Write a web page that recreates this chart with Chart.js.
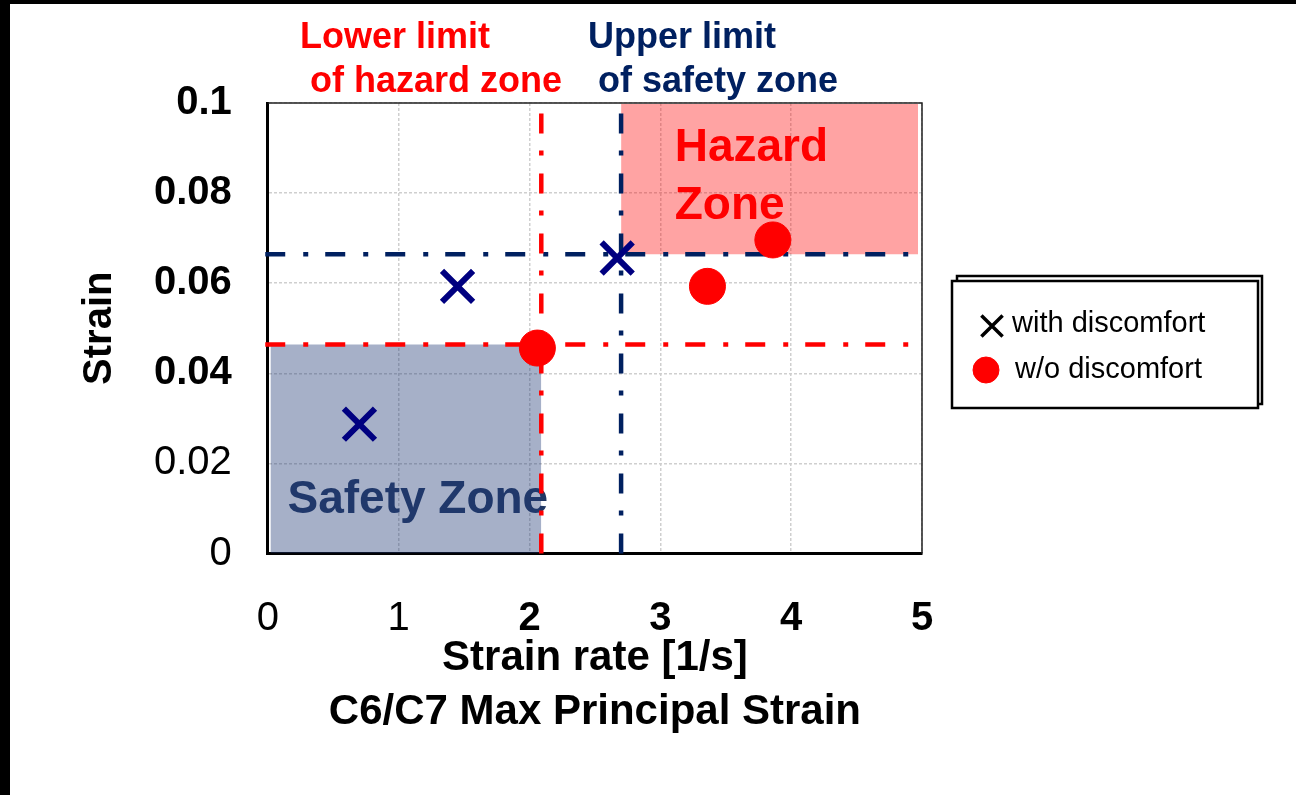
<!DOCTYPE html>
<html>
<head>
<meta charset="utf-8">
<script src="https://cdn.jsdelivr.net/npm/chart.js@4.4.0/dist/chart.umd.min.js"></script>
<style>
  html, body { margin: 0; padding: 0; background: #fff; }
  #wrap { width: 1296px; height: 795px; }
</style>
</head>
<body>
<div id="wrap"><canvas id="chart" width="1296" height="795"></canvas></div>
<script>
const xTickValues = [0, 1, 2, 3, 4, 5];
const xTickLabels = ["0", "1", "2", "3", "4", "5"];
const yTickValues = [0, 0.02, 0.04, 0.06, 0.08, 0.1];
const yTickLabels = ["0", "0.02", "0.04", "0.06", "0.08", "0.1"];

// strain rate [1/s] vs strain, per subject
const withDiscomfortX = [0.70, 1.45, 2.67];
const withDiscomfortY = [0.0287, 0.0593, 0.0656];
const withoutDiscomfortX = [2.06, 3.36, 3.86];
const withoutDiscomfortY = [0.0456, 0.0593, 0.0696];

// limits: [strain rate, strain]
const hazardLowerLimit = [2.09, 0.0464];
const safetyUpperLimit = [2.70, 0.0664];

// zone rectangles: [xMin, xMax], [yMin, yMax]
const safetyZoneX = [0.02, 2.09];
const safetyZoneY = [0, 0.0464];
const hazardZoneX = [2.70, 4.97];
const hazardZoneY = [0.0664, 0.0998];

const lineXRange = [-0.02, 5.02];
const lineYRange = [0, 0.1];

const RED = "#ff0000";
const NAVY = "#002060";
const FONT = "'Liberation Sans', Arial, sans-serif";

const pts = (xs, ys) => xs.map((x, i) => ({ x: x, y: ys[i] }));
const dashDot = [20, 18, 5, 17];

function limitLine(color, data) {
  return {
    type: "line", data: data, borderColor: color, borderWidth: 4.5,
    borderDash: dashDot, pointRadius: 0, fill: false, clip: 10, order: 1
  };
}

const datasets = [
  {
    label: "with discomfort",
    data: pts(withDiscomfortX, withDiscomfortY),
    pointStyle: "crossRot", pointRadius: 22, borderWidth: 6,
    borderColor: "#000080", backgroundColor: "#000080", order: 0
  },
  {
    label: "w/o discomfort",
    data: pts(withoutDiscomfortX, withoutDiscomfortY),
    pointStyle: "circle", pointRadius: 18, borderWidth: 1,
    borderColor: RED, backgroundColor: RED, order: 0
  },
  limitLine(RED, [{ x: lineXRange[0], y: hazardLowerLimit[1] }, { x: lineXRange[1], y: hazardLowerLimit[1] }]),
  limitLine(RED, [{ x: hazardLowerLimit[0], y: lineYRange[0] }, { x: hazardLowerLimit[0], y: lineYRange[1] }]),
  limitLine(NAVY, [{ x: lineXRange[0], y: safetyUpperLimit[1] }, { x: lineXRange[1], y: safetyUpperLimit[1] }]),
  limitLine(NAVY, [{ x: safetyUpperLimit[0], y: lineYRange[0] }, { x: safetyUpperLimit[0], y: lineYRange[1] }]),
  {
    type: "line", label: "safety zone",
    data: [{ x: safetyZoneX[0], y: safetyZoneY[1] }, { x: safetyZoneX[1], y: safetyZoneY[1] }],
    fill: { value: safetyZoneY[0] }, backgroundColor: "rgba(32,58,118,0.4)",
    borderWidth: 0, pointRadius: 0, order: 2
  },
  {
    type: "line", label: "hazard zone",
    data: [{ x: hazardZoneX[0], y: hazardZoneY[1] }, { x: hazardZoneX[1], y: hazardZoneY[1] }],
    fill: { value: hazardZoneY[0] }, backgroundColor: "rgba(255,0,0,0.36)",
    borderWidth: 0, pointRadius: 0, order: 2
  }
];

const frame = {
  id: "frame",
  beforeDraw(chart) {
    const ctx = chart.ctx;
    ctx.save();
    ctx.fillStyle = "#fff";
    ctx.fillRect(0, 0, chart.width, chart.height);
    ctx.fillStyle = "#000";
    ctx.fillRect(0, 0, chart.width, 4);
    ctx.fillRect(0, 0, 10, chart.height);
    ctx.restore();
  },
  beforeDatasetsDraw(chart) {
    const { ctx, scales: { x, y } } = chart;
    ctx.save();
    ctx.font = "bold 46px " + FONT;
    ctx.textBaseline = "middle";
    ctx.fillStyle = RED;
    ctx.fillText("Hazard", x.getPixelForValue(3.11), y.getPixelForValue(0.0899));
    ctx.fillText("Zone", x.getPixelForValue(3.11), y.getPixelForValue(0.0770));
    ctx.fillStyle = "#203864";
    ctx.fillText("Safety Zone", x.getPixelForValue(0.15), y.getPixelForValue(0.0118));
    ctx.restore();
  },
  afterDraw(chart) {
    const { ctx, chartArea: a } = chart;
    ctx.save();
    // plot frame top/right
    ctx.strokeStyle = "#222";
    ctx.lineWidth = 1.5;
    ctx.beginPath();
    ctx.moveTo(a.left, a.top); ctx.lineTo(a.right, a.top); ctx.lineTo(a.right, a.bottom);
    ctx.stroke();

    // limit captions
    ctx.font = "bold 36px " + FONT;
    ctx.textBaseline = "middle";
    ctx.fillStyle = RED;
    ctx.fillText("Lower limit", 300, 38);
    ctx.fillText("of hazard zone", 310, 82);
    ctx.fillStyle = NAVY;
    ctx.fillText("Upper limit", 588, 38);
    ctx.fillText("of safety zone", 598, 82);

    // legend box
    ctx.lineWidth = 2.5;
    ctx.strokeStyle = "#000";
    ctx.fillStyle = "#fff";
    ctx.fillRect(957, 276, 305, 128);
    ctx.strokeRect(957, 276, 305, 128);
    ctx.fillRect(952, 281, 306, 127);
    ctx.strokeRect(952, 281, 306, 127);

    const dp = Chart.helpers && Chart.helpers.drawPoint;
    const ds = chart.data.datasets;
    ctx.font = "29px " + FONT;
    ctx.fillStyle = "#000";
    ctx.fillText(ds[0].label, 1012, 324);
    ctx.fillText(ds[1].label, 1015, 370);
    if (dp) {
      ctx.strokeStyle = "#000";
      ctx.lineWidth = 3.5;
      dp(ctx, { pointStyle: ds[0].pointStyle, radius: 15, rotation: 0, borderWidth: 3.5 }, 992, 326);
      ctx.fillStyle = ds[1].backgroundColor;
      ctx.strokeStyle = ds[1].borderColor;
      ctx.lineWidth = 1;
      dp(ctx, { pointStyle: ds[1].pointStyle, radius: 13, rotation: 0, borderWidth: 1 }, 986, 370);
    }
    ctx.restore();
  }
};

const gridOpts = {
  color: (c) => (c.tick && c.tick.value === 0 ? "rgba(0,0,0,0)" : "#cfcfcf"),
  lineWidth: 1.5,
  drawTicks: false
};

new Chart(document.getElementById("chart"), {
  type: "scatter",
  data: { datasets: datasets },
  options: {
    responsive: false,
    animation: false,
    layout: { padding: { top: 103, left: 60, right: 374, bottom: 56 } },
    plugins: { legend: { display: false }, tooltip: { enabled: false } },
    scales: {
      x: {
        type: "linear", min: 0, max: 5,
        afterBuildTicks: (s) => { s.ticks = xTickValues.map((v) => ({ value: v })); },
        grid: gridOpts,
        border: { color: "#000", width: 3, dash: [3, 2] },
        ticks: {
          padding: 45, color: "#000",
          font: (c) => ({ family: FONT, size: 40, lineHeight: 1, weight: c.index >= 2 ? "bold" : "normal" }),
          callback: (v, i) => xTickLabels[i]
        },
        title: {
          display: true, color: "#000",
          text: ["Strain rate [1/s]", "C6/C7 Max Principal Strain"],
          font: { family: FONT, size: 42, weight: "bold", lineHeight: 1.28 },
          padding: { top: -52, bottom: 0 }
        }
      },
      y: {
        type: "linear", min: 0, max: 0.1,
        afterBuildTicks: (s) => { s.ticks = yTickValues.map((v) => ({ value: v })); },
        grid: gridOpts,
        border: { color: "#000", width: 3, dash: [3, 2] },
        ticks: {
          padding: 36, color: "#000",
          font: (c) => ({ family: FONT, size: 40, weight: c.index >= 2 ? "bold" : "normal" }),
          callback: (v, i) => yTickLabels[i]
        },
        title: {
          display: true, color: "#000", text: "Strain",
          font: { family: FONT, size: 40, weight: "bold", lineHeight: 1.2 },
          padding: { top: 16, bottom: -6 }
        }
      }
    }
  },
  plugins: [frame]
});
</script>
</body>
</html>
